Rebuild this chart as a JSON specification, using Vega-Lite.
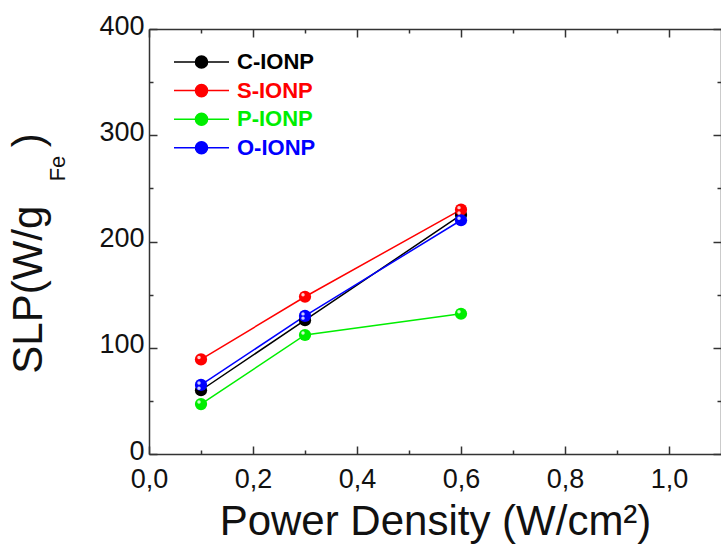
{
  "$schema": "https://vega.github.io/schema/vega-lite/v6.json",
  "width": 572,
  "height": 425,
  "autosize": "none",
  "padding": {"left": 149, "top": 29, "right": 0, "bottom": 93},
  "background": "white",
  "config": {"view": {"stroke": null}, "font": "Liberation Sans"},
  "data": {"values": [
    {"sample": "C-IONP", "power": 0.1, "slp": 60},
    {"sample": "C-IONP", "power": 0.3, "slp": 126},
    {"sample": "C-IONP", "power": 0.6, "slp": 225},
    {"sample": "S-IONP", "power": 0.1, "slp": 89},
    {"sample": "S-IONP", "power": 0.3, "slp": 148},
    {"sample": "S-IONP", "power": 0.6, "slp": 230},
    {"sample": "P-IONP", "power": 0.1, "slp": 47},
    {"sample": "P-IONP", "power": 0.3, "slp": 112},
    {"sample": "P-IONP", "power": 0.6, "slp": 132},
    {"sample": "O-IONP", "power": 0.1, "slp": 65},
    {"sample": "O-IONP", "power": 0.3, "slp": 130},
    {"sample": "O-IONP", "power": 0.6, "slp": 220}
  ]},
  "layer": [
    {
      "mark": {"type": "line", "strokeWidth": 1.5, "point": {"filled": true, "size": 150, "opacity": 1}},
      "encoding": {
        "x": {"field": "power", "type": "quantitative",
          "scale": {"domain": [0, 1.1], "nice": false, "zero": false},
          "axis": {"orient": "bottom", "values": [0, 0.1, 0.2, 0.3, 0.4, 0.5, 0.6, 0.7, 0.8, 0.9, 1.0],
            "title": "Power Density (W/cm²)", "titleFontSize": 42, "titleFontWeight": "normal", "titleColor": "#111", "titlePadding": 5,
            "labelExpr": "round(datum.value*10)%2==0 ? replace(format(datum.value,'.1f'),'.',',') : ''",
            "labelFontSize": 27, "labelColor": "#111", "labelPadding": 20, "labelFlush": false, "labelOverlap": false,
            "tickSize": {"condition": {"test": "round(datum.value*10)%2==0", "value": -8}, "value": -4},
            "tickColor": "#333", "tickWidth": 1.5, "domainColor": "#333", "domainWidth": 1.5, "grid": false}},
        "y": {"field": "slp", "type": "quantitative",
          "scale": {"domain": [0, 400], "nice": false},
          "axis": {"orient": "left", "values": [0, 50, 100, 150, 200, 250, 300, 350, 400],
            "title": "SLP(W/g\u00a0\u00a0\u00a0\u00a0\u00a0)", "titleFontSize": 42, "titleFontWeight": "normal", "titleColor": "#111",
            "titleX": -121, "titleY": 224, "titleAlign": "center", "titleBaseline": "middle", "titleAngle": 270,
            "labelExpr": "datum.value%100==0 ? datum.label : ''",
            "labelFontSize": 27, "labelColor": "#111", "labelPadding": 13, "labelOffset": -3, "labelFlush": false, "labelOverlap": false,
            "tickSize": {"condition": {"test": "datum.value%100==0", "value": -8}, "value": -4},
            "tickColor": "#333", "tickWidth": 1.5, "domainColor": "#333", "domainWidth": 1.5, "grid": false}},
        "color": {"field": "sample", "type": "nominal",
          "scale": {"domain": ["C-IONP", "S-IONP", "P-IONP", "O-IONP"], "range": ["#000000", "#ff0000", "#00ee00", "#0000ff"]},
          "legend": {"orient": "none", "legendX": 24, "legendY": 25, "title": null, "padding": 0,
            "symbolType": "M-1,0H1M0.22,0A0.22,0.22,0,1,1,-0.22,0A0.22,0.22,0,1,1,0.22,0Z",
            "symbolSize": 3025, "symbolStrokeWidth": 1.5, "clipHeight": 16, "rowPadding": 6.6,
            "labelFontSize": 22, "labelFontWeight": "bold", "labelOffset": 7,
            "encode": {
              "labels": {"update": {"fill": {"scale": "color", "field": "value"}}},
              "symbols": {"update": {"fill": {"scale": "color", "field": "value"}, "stroke": {"scale": "color", "field": "value"}, "opacity": {"value": 1}, "fillOpacity": {"value": 1}}}
            }}}
      }
    },
    {
      "mark": {"type": "point", "filled": true, "color": "white", "opacity": 0.8, "size": 12, "xOffset": -2, "yOffset": -2},
      "encoding": {
        "x": {"field": "power", "type": "quantitative", "axis": null},
        "y": {"field": "slp", "type": "quantitative", "axis": null}
      }
    },
    {
      "mark": {"type": "point", "opacity": 0},
      "encoding": {
        "x": {"field": "power", "type": "quantitative",
          "axis": {"orient": "top", "values": [0, 0.1, 0.2, 0.3, 0.4, 0.5, 0.6, 0.7, 0.8, 0.9, 1.0], "title": null, "labels": false,
            "tickSize": {"condition": {"test": "round(datum.value*10)%2==0", "value": -8}, "value": -4},
            "tickColor": "#333", "tickWidth": 1.5, "domainColor": "#333", "domainWidth": 1.5, "grid": false}},
        "y": {"field": "slp", "type": "quantitative",
          "axis": {"orient": "right", "values": [0, 50, 100, 150, 200, 250, 300, 350, 400], "title": null, "labels": false,
            "tickSize": {"condition": {"test": "datum.value%100==0", "value": -8}, "value": -4},
            "tickColor": "#333", "tickWidth": 1.5, "domainColor": "#333", "domainWidth": 1.5, "grid": false}}
      }
    },
    {
      "mark": {"type": "point", "opacity": 0},
      "encoding": {
        "x": {"field": "power", "type": "quantitative", "axis": null},
        "y": {"field": "slp", "type": "quantitative",
          "axis": {"orient": "left", "domain": false, "ticks": false, "labels": false, "grid": false,
            "title": "Fe", "titleFontSize": 22, "titleFontWeight": "normal", "titleColor": "#111",
            "titleX": -92, "titleY": 139, "titleAlign": "center", "titleBaseline": "middle", "titleAngle": 270}}
      }
    }
  ],
  "resolve": {"axis": {"x": "independent", "y": "independent"}}
}
